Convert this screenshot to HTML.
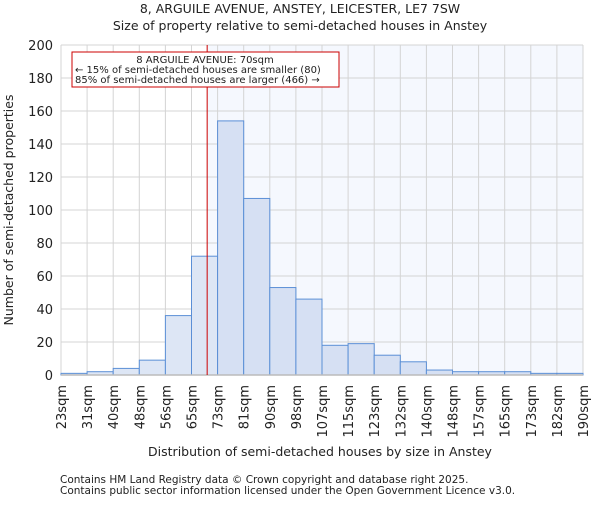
<!DOCTYPE html>
<html><head><meta charset="utf-8"><style>
body{margin:0;background:#fff;font-family:"Liberation Sans","DejaVu Sans",sans-serif;}
svg text{font-family:"DejaVu Sans","Liberation Sans",sans-serif;fill:#222;}
</style></head><body>
<svg id="chart" width="600" height="500">
<text x="300" y="13" text-anchor="middle" font-size="12.5">8, ARGUILE AVENUE, ANSTEY, LEICESTER, LE7 7SW</text>
<text x="300" y="30" text-anchor="middle" font-size="12.5">Size of property relative to semi-detached houses in Anstey</text>
<g id="plot"></g>
<text x="320" y="456" text-anchor="middle" font-size="12.5">Distribution of semi-detached houses by size in Anstey</text>
<text transform="translate(13,210) rotate(-90)" text-anchor="middle" font-size="12.5">Number of semi-detached properties</text>
<text x="60" y="483" font-size="10.5" fill="#444">Contains HM Land Registry data © Crown copyright and database right 2025.</text>
<text x="60" y="494" font-size="10.5" fill="#444">Contains public sector information licensed under the Open Government Licence v3.0.</text>
</svg>
<script>
const categories=["23sqm","31sqm","40sqm","48sqm","56sqm","65sqm","73sqm","81sqm","90sqm","98sqm","107sqm","115sqm","123sqm","132sqm","140sqm","148sqm","157sqm","165sqm","173sqm","182sqm","190sqm"];
const counts=[1,2,4,9,36,72,154,107,53,46,18,19,12,8,3,2,2,2,1,1];
const yTicks=[0,20,40,60,80,100,120,140,160,180,200];
const propertyBin=5.6;
const NS="http://www.w3.org/2000/svg";
const g=document.getElementById('plot');
const L=61,R=583,T=45,B=375,yMax=200;
const n=counts.length,bw=(R-L)/n;
const xs=i=>L+i*bw;
const ys=v=>B-(v/yMax)*(B-T);
function mk(tag,at){const e=document.createElementNS(NS,tag);for(const k in at)e.setAttribute(k,at[k]);g.appendChild(e);return e;}
const px=xs(propertyBin);
let e=mk('rect',{x:px,y:T,width:R-px,height:B-T,fill:'#f5f8fe'});


yTicks.forEach(t=>{
 let l=mk('line',{x1:L,x2:R,y1:ys(t),y2:ys(t),stroke:'#d4d4d4','stroke-width':1});
 
 
 let tx=mk('text',{x:L-8,y:ys(t)+5,'text-anchor':'end','font-size':13});
 tx.textContent=t;
 
 
});
categories.forEach((c,i)=>{
 let l=mk('line',{x1:xs(i),x2:xs(i),y1:T,y2:B,stroke:'#d4d4d4','stroke-width':1});
 
 
 let tx=mk('text',{transform:`translate(${xs(i)+5},${B+10}) rotate(-90)`,'text-anchor':'end','font-size':13});
 tx.textContent=c;
 
 
});
counts.forEach((v,i)=>{
 let r=mk('rect',{x:xs(i),y:ys(v),width:bw,height:B-ys(v),fill:(i<propertyBin-0.5?'#dde6f5':'#d6e0f3'),stroke:'#5b8fd6','stroke-width':1});
 
 
});
let ax=mk('line',{x1:L,x2:R,y1:B,y2:B,stroke:'#bbb','stroke-width':1.5});


let rl=mk('line',{x1:px,x2:px,y1:T,y2:B,stroke:'#cc0000','stroke-width':1});


let box=mk('rect',{x:72,y:52,width:267,height:35,fill:'#fff',stroke:'#cc0000','stroke-width':1});


[["8 ARGUILE AVENUE: 70sqm",205,'middle',63],["← 15% of semi-detached houses are smaller (80)",75,'start',73],["85% of semi-detached houses are larger (466) →",75,'start',83]].forEach(([s,x,a,y])=>{
 let t=mk('text',{x:x,y:y,'text-anchor':a,'font-size':10});
 t.textContent=s;
 
 
});
</script>
</body></html>
